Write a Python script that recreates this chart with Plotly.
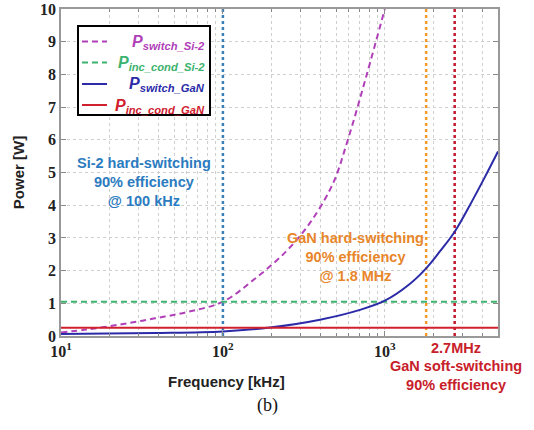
import plotly.graph_objects as go
import math

# ---- data ----
freq_si = [10, 14.5, 23.7, 38, 61, 100, 154, 245, 344, 477, 591, 774, 1000]
p_switch_si2 = [0.11, 0.2, 0.36, 0.54, 0.74, 1.05, 1.71, 2.58, 3.45, 4.65, 6.0, 8.0, 10.0]

freq_gan = [10, 38, 100, 195, 398, 702, 1000, 1400, 1800, 2200, 2700, 3350, 4140, 5000]
p_switch_gan = [0.06, 0.09, 0.14, 0.26, 0.5, 0.8, 1.08, 1.56, 2.07, 2.6, 3.19, 4.0, 4.85, 5.64]

freq_const = [10, 5000]
p_inc_cond_si2 = [1.05, 1.05]
p_inc_cond_gan = [0.25, 0.25]

marker_freqs = [100, 1800, 2700]
marker_colors = ["#3a80b8", "#f39a2b", "#c0182e"]

x_tickvals = [10, 100, 1000]
x_ticktext = ["10<sup>1</sup>", "10<sup>2</sup>", "10<sup>3</sup>"]
y_tickvals = list(range(0, 11))

legend_names = [("P", "switch_Si-2"), ("P", "inc_cond_Si-2"), ("P", "switch_GaN"), ("P", "inc_cond_GaN")]

C_MAG = "#b040b8"
C_GRN = "#3cb36e"
C_BLU = "#2b2ba8"
C_RED = "#d0202e"
series_colors = [C_MAG, C_GRN, C_BLU, C_RED]
series_dash = ["6px,4px", "6px,4px", "solid", "solid"]

fig = go.Figure()

# vertical reference lines
for f, c in zip(marker_freqs, marker_colors):
    fig.add_trace(go.Scatter(x=[f, f], y=[0, 10], mode="lines",
                             line=dict(color=c, width=2.5, dash="dot"),
                             showlegend=False, hoverinfo="skip"))

series = [(freq_si, p_switch_si2, "spline"), (freq_const, p_inc_cond_si2, "linear"),
          (freq_gan, p_switch_gan, "spline"), (freq_const, p_inc_cond_gan, "linear")]
for (xs, ys, shp), col, dsh, (t, s) in zip(series, series_colors, series_dash, legend_names):
    fig.add_trace(go.Scatter(x=xs, y=ys, mode="lines", showlegend=False,
                             line=dict(color=col, width=2, dash=dsh, shape=shp),
                             name=f"{t}{s}"))

grid_c = "#cfcfcf"
tfont = dict(family="Liberation Serif", size=16, color="#222", weight="bold")
fig.update_xaxes(type="log", range=[1, math.log10(5000)], automargin=False,
                 tickvals=x_tickvals, ticktext=x_ticktext, tickfont=tfont,
                 ticks="inside", ticklen=5, tickcolor="#888",
                 showline=True, linecolor="#999", linewidth=1.5, mirror="ticks",
                 showgrid=True, gridcolor=grid_c, griddash="dot", gridwidth=1,
                 minor=dict(dtick="D1", ticks="inside", ticklen=3, tickcolor="#888",
                            showgrid=True, gridcolor=grid_c, griddash="dot"),
                 zeroline=False)
fig.update_yaxes(range=[0, 10], tickvals=y_tickvals, automargin=False, tickfont=tfont,
                 ticks="inside", ticklen=5, tickcolor="#888",
                 showline=True, linecolor="#999", linewidth=1.5, mirror="ticks",
                 showgrid=True, gridcolor=grid_c, griddash="dot", gridwidth=1,
                 zeroline=False,
                 title=dict(text="<b>Power [W]</b>", font=dict(family="Arial", size=15, color="#222"),
                            standoff=12))

# page pixel positions -> plot-area fractions (plot area: x 61-498, y 9-336)
def px(xp):
    return (xp - 61) / 437

def py(yp):
    return (336 - yp) / 327

def ann(xp, yp, text, color, size=14.5, family="Arial", xanchor="center"):
    fig.add_annotation(xref="paper", yref="paper", x=px(xp), y=py(yp),
                       xanchor=xanchor, yanchor="middle",
                       text=text, showarrow=False,
                       font=dict(family=family, size=size, color=color), align="center")

ann(144, 182, "<b>Si-2 hard-switching<br>90% efficiency<br>@ 100 kHz</b>", "#2b7bc0")
ann(355, 257, "<b>GaN hard-switching<br>90% efficiency<br>@ 1.8 MHz</b>", "#e8862a")
ann(456, 348, "<b>2.7MHz</b>", "#c8202a")
ann(456, 375, "<b>GaN soft-switching<br>90% efficiency</b>", "#c8202a")
ann(226, 381, "<b>Frequency [kHz]</b>", "#222", size=15)
ann(267, 405, "(b)", "#111", size=18, family="Liberation Serif")

# legend box (drawn as a framed key, matching the reference's right-aligned entries)
fig.add_shape(type="rect", xref="paper", yref="paper", x0=px(78), x1=px(210), y0=py(115), y1=py(26),
              line=dict(color="black", width=2), fillcolor="white", layer="above")
row_y = [41.5, 62.5, 84, 105]
for ry, col, dsh, (t, s) in zip(row_y, series_colors, series_dash, legend_names):
    fig.add_shape(type="line", xref="paper", yref="paper", x0=px(82), x1=px(107), y0=py(ry), y1=py(ry),
                  line=dict(color=col, width=2, dash=dsh), layer="above")
    ann(207, ry + 1, f"<b><i>{t}<sub>{s}</sub></i></b>", col, size=16, xanchor="right")

fig.update_layout(width=534, height=430,
                  margin=dict(l=61, r=36, t=9, b=94),
                  paper_bgcolor="white", plot_bgcolor="white", showlegend=False)

# remove the default 8px page margin so the figure sits at the window's corner
fig.write_html("out.html", config={"displayModeBar": False},
               post_script="document.body.style.margin='0px';")
